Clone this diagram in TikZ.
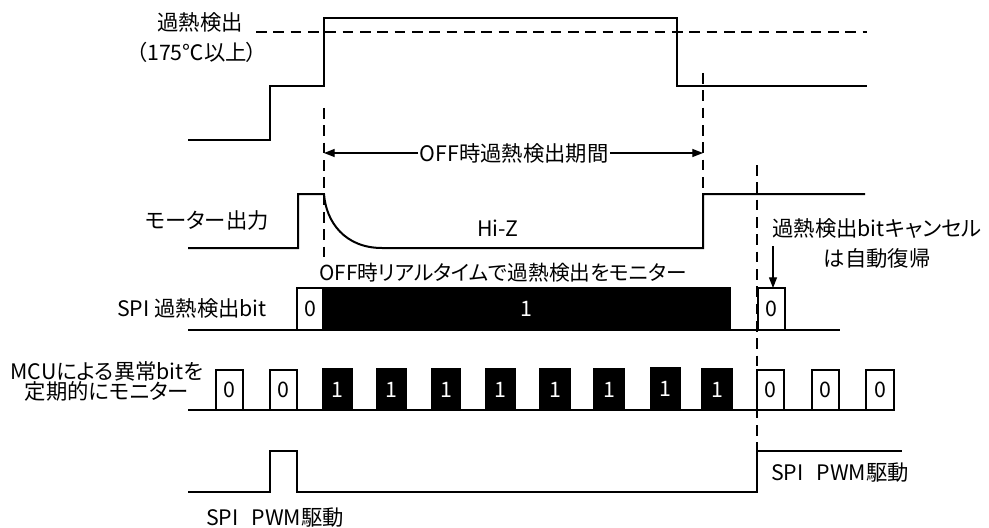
\documentclass[tikz,border=0pt]{standalone}
\usepackage{fontspec}
\setmainfont[RawFeature=+palt]{Noto Sans CJK JP}
\usetikzlibrary{arrows.meta}
\newcommand{\bitbox}[8]{%
  \draw[line width=1pt, fill=#6] (#2,#4) rectangle (#3,#5);
  \node[lbl, text=#7] (#1) at ({(#2+#3)/2},{(#4+#5)/2}) {#8};}
\begin{document}
\begin{tikzpicture}[x=0.75pt,y=-0.75pt,
  sig/.style={line width=1.5pt, line join=miter},
  sigthin/.style={line width=1pt},
  guide/.style={line width=0.8pt, dash pattern=on 8pt off 5pt},
  lbl/.style={font=\fontsize{16}{18}\selectfont, inner sep=0pt},
  small/.style={font=\fontsize{15.5}{17}\selectfont, inner sep=0pt},
  arr/.style={line width=0.9pt, -{Triangle[length=8pt,width=6pt]}}]
\useasboundingbox (0,0) rectangle (989,528);

% ---------- overheat signal ----------
\node[lbl] (ohd) at (200,22) {過熱検出};
\node[lbl] (ohdt) at (197,52) {（175℃以上）};
\draw[guide] (256,32) -- (867,32);
\draw[sig] (188,140) -- (270,140) -- (270,86) -- (324,86) -- (324,18) -- (677,18) -- (677,86) -- (867,86);

% ---------- guide lines ----------
\draw[guide] (324,108) -- (324,258);
\draw[guide] (703,73) -- (703,190);
\draw[guide] (757,165) -- (757,452);

% ---------- period arrow ----------
\coordinate (pl) at (324,153);
\coordinate (pr) at (703,153);
\node[lbl, fill=white, inner xsep=1pt] (period) at (514,153) {OFF時過熱検出期間};
\draw[arr] (period.west) -- (pl);
\draw[arr] (period.east) -- (pr);

% ---------- motor output ----------
\node[lbl] (motor) at (207,220) {モーター出力};
\draw[sig] (188,248) -- (298,248) -- (298,194) -- (324,194)
   .. controls (326,222) and (345,248) .. (382,248) -- (703,248) -- (703,194) -- (865,194);
\node[lbl] (hiz) at (498,228) {Hi-Z};

% ---------- SPI bit ----------
\node[small] (rt) at (503,273) {OFF時リアルタイムで過熱検出をモニター};
\node[lbl] (spibit) at (192,308) {SPI 過熱検出bit};
\draw[sigthin] (188,330) -- (840,330);
\bitbox{s0a}{297}{323}{288}{330}{white}{black}{0}
\bitbox{s1}{323}{730}{288}{330}{black}{white}{1}
\bitbox{s0b}{758}{785}{288}{330}{white}{black}{0}
\node[lbl] (can1) at (877,228) {過熱検出bitキャンセル};
\node[lbl] (can2) at (877,258) {は自動復帰};
\coordinate (cantop) at (773,246);
\coordinate (cantip) at (773,288);
\draw[arr] (cantop) -- (cantip);

% ---------- MCU monitoring ----------
\node[lbl] (mcu1) at (107,371) {MCUによる異常bitを};
\node[lbl] (mcu2) at (107,391) {定期的にモニター};
\draw[sigthin] (188,410) -- (894,410);
\bitbox{m1}{216}{243}{370}{410}{white}{black}{0}
\bitbox{m2}{270}{297}{370}{410}{white}{black}{0}
\bitbox{m3}{323}{352}{369}{410}{black}{white}{1}
\bitbox{m4}{377}{406}{369}{410}{black}{white}{1}
\bitbox{m5}{432}{460}{369}{410}{black}{white}{1}
\bitbox{m6}{486}{515}{369}{410}{black}{white}{1}
\bitbox{m7}{540}{570}{369}{410}{black}{white}{1}
\bitbox{m8}{594}{624}{369}{410}{black}{white}{1}
\bitbox{m9}{651}{680}{368}{410}{black}{white}{1}
\bitbox{m10}{702}{732}{369}{410}{black}{white}{1}
\bitbox{m11}{757}{784}{370}{410}{white}{black}{0}
\bitbox{m12}{812}{839}{370}{410}{white}{black}{0}
\bitbox{m13}{866}{894}{370}{410}{white}{black}{0}

% ---------- SPI PWM ----------
\draw[sigthin] (188,492) -- (270,492) -- (270,451) -- (297,451) -- (297,492) -- (757,492) -- (757,451) -- (902,451);
\node[lbl] (pwm1) at (275,518) {SPI\hspace{0.6em}PWM駆動};
\node[lbl] (pwm2) at (840,473) {SPI\hspace{0.6em}PWM駆動};
\end{tikzpicture}
\end{document}
